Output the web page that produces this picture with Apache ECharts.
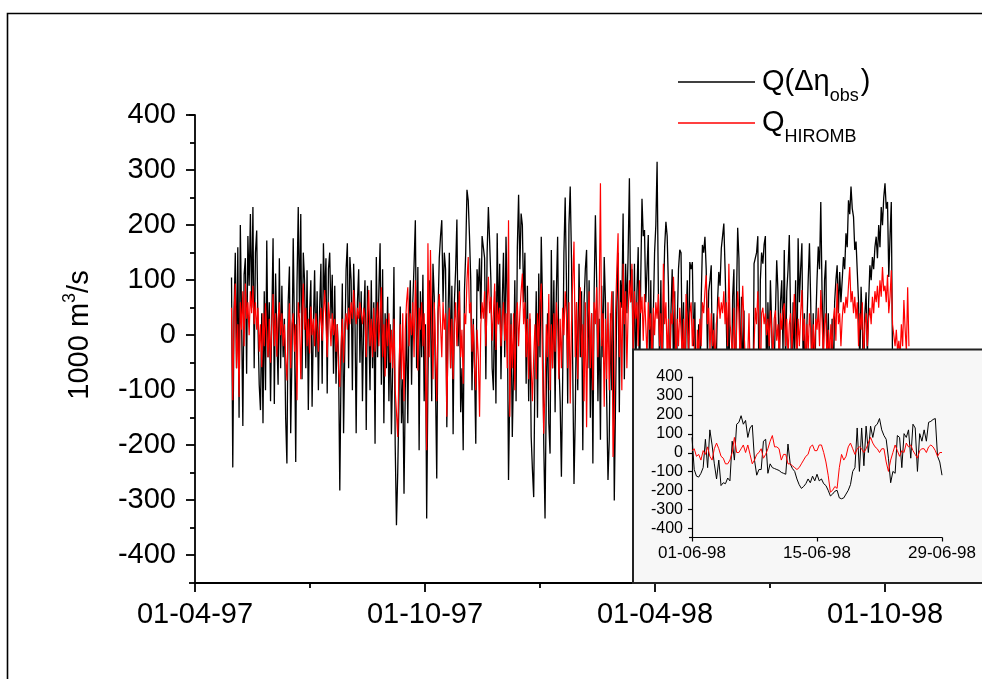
<!DOCTYPE html>
<html>
<head>
<meta charset="utf-8">
<script src="https://cdn.jsdelivr.net/npm/echarts/dist/echarts.min.js"></script>
<style>
  html, body { margin: 0; padding: 0; background: #fff; }
  #chart { width: 982px; height: 679px; }
</style>
</head>
<body>
<div id="chart"></div>
<script>
// days are counted from 01-04-97; one value per day
const firstDay = 29
const mainTickLabels = ['01-04-97', '01-10-97', '01-04-98', '01-10-98']

const qObs = [
  105,-240,40,150,-60,160,-150,200,30,-165,110,
  140,-70,180,90,220,50,233,-60,150,190,
  20,-90,-136,40,-160,80,-100,172,-40,60,
  -120,30,176,-125,112,0,-90,140,-60,90,
  -40,30,-150,-233,60,125,-178,-40,176,10,
  -230,90,233,40,220,-80,150,100,-60,118,
  -136,40,100,-130,20,118,-40,80,-100,50,
  130,-88,167,60,140,-106,120,150,30,110,
  -70,90,-88,20,-40,-282,-60,94,-178,-20,
  120,167,-60,142,100,-100,130,40,-178,60,
  120,-50,80,-120,30,100,
  -172,90,20,-100,100,-60,60,-197,142,-40,80,
  167,-90,120,-160,40,-60,70,-120,20,-180,
  -60,124,-200,-345,-250,-120,52,-160,-80,-288,
  -100,40,-160,30,100,-90,60,130,209,-60,
  124,-209,80,-40,110,-120,20,-333,-80,100,
  60,-120,130,70,-90,-260,40,140,180,209,
  60,150,120,-167,40,150,-60,90,-180,60,
  120,210,-20,100,-140,-60,-209,80,150,264,
  245,180,100,-100,30,-60,-197,120,80,140,
  30,180,179,140,-80,150,233,170,100,-60,
  -100,80,-124,185,20,130,-80,60,150,-40,
  179,60,-263,-100,40,-185,-60,100,-120,160,
  255,120,221,200,60,150,-88,90,-120,30,
  -185,-245,-294,-60,80,-150,112,-40,179,60,
  -200,-333,-100,40,-160,-215,155,-60,100,-140,
  80,179,-50,-120,-257,-80,150,250,100,-124,
  200,270,140,-60,-270,-150,60,-100,130,-40,
  80,-209,60,120,155,-60,100,-150,40,-233,
  80,218,100,-120,30,-190,90,-40,142,60,
  -120,-263,-190,40,-100,80,-300,-120,60,150,
  -140,100,50,221,-80,130,40,150,285,60,
  120,-60,130,-100,80,160,-120,100,248,180,
  191,60,120,182,-80,100,-150,40,150,200,
  315,80,-60,100,-120,60,160,206,180,90,
  -100,40,120,-60,80,-180,20,120,155,150,
  -40,60,-150,20,100,-60,133,120,133,-20,
  60,-200,-100,20,-120,60,164,150,179,120,
  -40,80,100,127,-80,40,-160,-50,60,115,
  90,158,180,203,120,20,-100,60,-140,
  -120,70,120,-170,60,195,140,-100,70,-90,
  45,-120,-185,-140,-150,-220,-245,-200,130,140,
  150,180,-160,100,150,130,165,180,-120,
  60,-40,100,20,-140,-60,40,136,80,-60,60,100,-30,
  155,-60,80,120,182,40,-100,60,-40,100,
  -80,176,60,120,167,-60,40,-120,20,100,
  167,60,-100,40,-150,20,100,161,120,242,
  80,-40,100,136,-80,40,-120,-60,30,-100,
  60,100,127,40,115,60,100,142,120,185,
  160,245,220,270,230,215,155,170,115,60,
  -60,88,20,-100,40,78,-40,60,127,100,
  142,120,160,179,140,200,160,233,200,250,
  276,230,242,106,180,242,-60
]

const qHiromb = [
  50,-118,40,94,-60,20,-112,60,10,80,-20,
  94,30,60,0,80,40,90,20,60,10,
  50,-30,20,-58,40,-20,58,0,-40,30,
  -50,20,75,-20,40,-39,30,60,0,40,
  -20,20,-40,-82,10,58,-60,20,40,-30,
  20,-118,60,30,-80,40,94,10,50,-20,
  30,-33,52,0,30,-20,40,10,-30,20,
  50,-10,40,82,20,-40,60,30,-20,40,
  0,30,-30,20,-60,-94,-20,30,-50,20,
  40,10,50,20,60,30,82,40,20,50,
  30,60,40,20,50,30,
  -40,40,82,-20,30,-40,50,-30,20,60,-20,
  40,87,-40,20,-75,30,-20,40,-50,10,
  -60,30,-100,-140,-185,-60,20,-80,40,-120,
  10,60,87,-20,40,0,60,-40,100,30,
  -64,50,10,60,-20,40,-60,-209,167,-40,
  155,20,-80,60,-20,-120,40,75,20,-40,
  60,10,40,-148,0,50,-60,30,-80,20,
  60,-20,30,80,-40,10,-88,40,20,100,
  142,40,60,-30,20,-60,-100,10,-40,-148,
  20,60,30,80,-20,60,106,40,70,-10,
  40,94,-27,60,20,50,-20,30,60,-10,
  40,-60,209,-148,20,-60,40,-100,30,60,
  -20,40,80,112,20,60,-40,30,-80,40,
  -60,-120,-40,20,-80,40,-20,60,94,-60,
  -179,-100,20,-40,75,-100,20,-60,40,-30,
  60,20,-80,30,-60,50,0,80,40,-60,
  60,-124,20,100,170,-40,60,-80,30,87,
  -40,20,-120,60,-167,30,80,-60,40,-100,
  60,20,87,-40,60,276,-20,40,-130,30,
  -80,60,-100,20,80,-221,-150,40,120,185,
  -40,60,-100,130,20,80,-60,40,100,60,
  130,-27,80,30,60,-20,100,40,70,-10,
  75,20,-40,60,10,40,-60,50,0,60,
  30,75,-20,40,-60,130,20,60,-40,30,
  -80,40,20,106,40,-60,30,-20,50,10,
  -40,30,-80,75,20,-30,40,60,-20,30,
  -60,-100,10,-40,30,-20,60,40,80,109,
  20,50,-30,40,-20,10,-60,20,40,70,
  30,60,40,80,20,60,-20,130,20,
  20,-40,50,-60,0,80,40,-60,20,90,
  20,-60,-90,-40,40,40,-210,-180,-20,50,
  20,80,20,-100,40,50,20,40,0,
  30,-20,45,10,-40,30,45,-10,20,-50,40,10,45,
  58,-20,30,-40,20,40,-30,20,75,10,
  -40,30,-20,40,82,-10,30,-60,20,-30,
  40,10,-50,20,-40,30,10,50,-20,82,
  30,-40,20,40,-60,10,-40,20,-30,30,
  50,-10,94,20,40,-20,30,60,40,70,
  50,90,124,60,80,40,70,30,60,-20,
  40,10,60,-40,20,40,-20,30,50,20,
  70,40,80,60,90,50,100,70,124,80,
  90,60,110,40,70,118,20,0,-20,10,
  -30,-10,-40,20,-20,64,10,-30,87,-20
]

// inset: June 1998, one value every 6 hours
const insetTickLabels = ['01-06-98', '15-06-98', '29-06-98']
const insetStep = 0.25
const insetObs = [
  80,-90,-125,-130,-110,-80,70,-80,120,40,
  -60,-140,-40,-175,-160,-165,-135,-150,60,-40,
  150,160,195,150,170,80,130,145,-40,-120,
  -90,-90,60,70,-110,-60,-80,-85,-90,-95,
  -105,-110,-115,45,-60,-85,-100,-140,-170,-190,
  -180,-165,-140,-160,-125,-150,-115,-150,-140,-165,
  -175,-200,-230,-220,-205,-200,-240,-245,-240,-220,
  -200,-170,-100,-80,130,-100,130,-70,140,0,
  140,80,140,150,180,120,90,70,-30,-160,
  -100,-110,90,80,-80,100,80,120,-30,150,
  130,-100,100,60,120,60,160,165,175,180,
  -20,-50,-120
]
const insetHiromb = [
  10,20,-20,-10,-40,10,-10,30,-20,-40,
  20,50,20,-20,-30,-60,-60,-40,0,80,
  0,0,20,40,0,40,-10,-60,-40,-10,
  0,20,-30,-10,20,60,90,30,30,20,
  -40,-10,-10,-60,-60,-70,-80,-90,-80,-60,
  -40,-20,-10,30,40,10,10,40,40,0,
  -50,-120,-210,-200,-180,-190,-80,-10,-40,-20,
  30,50,20,-10,20,30,20,0,20,50,
  80,50,30,20,0,20,20,-50,-100,-40,
  0,40,10,-20,10,0,50,30,40,10,
  -10,-30,10,20,20,0,30,40,30,10,
  -20,0,0
]

const font = 'Liberation Sans, Arial, sans-serif'
const halfYear = 548 / 3

const toPairs = (values, start, step) => values.map((v, i) => [start + i * step, v])

const legendText = {
  'Q obs': '{q|Q(Δη}{s|obs}{q|)}',
  'Q HIROMB': '{q|Q}{s|HIROMB}'
}

const myChart = echarts.init(document.getElementById('chart'))

const axisLineStyle = { color: '#000', width: 1.8 }

const option = {
  animation: false,
  backgroundColor: '#fff',
  textStyle: { fontFamily: font, color: '#000' },
  graphic: [
    {
      type: 'rect',
      z: 0,
      silent: true,
      shape: { x: 7.5, y: 13.5, width: 1000, height: 700 },
      style: { fill: 'none', stroke: '#000', lineWidth: 1.6 }
    },
    {
      type: 'rect',
      z: 50,
      silent: true,
      shape: { x: 633, y: 349.5, width: 400, height: 233.5 },
      style: { fill: '#f7f7f7', stroke: '#222', lineWidth: 2 }
    }
  ],
  legend: {
    data: ['Q obs', 'Q HIROMB'],
    orient: 'vertical',
    left: 678,
    top: 59,
    padding: 0,
    itemGap: -5,
    itemWidth: 77,
    itemHeight: 1.3,
    icon: 'rect',
    selectedMode: false,
    formatter: name => legendText[name],
    textStyle: {
      rich: {
        q: { fontSize: 29, fontFamily: font, color: '#000', lineHeight: 30, verticalAlign: 'middle', padding: [0, 0, 0, 2] },
        s: { fontSize: 18, fontFamily: font, color: '#000', lineHeight: 18, verticalAlign: 'middle', padding: [28, 0, 0, 0] }
      }
    }
  },
  grid: [
    // main plot runs past the right edge of the page
    { left: 195, top: 115, width: 920, height: 468, outerBoundsMode: 'none' },
    { left: 195, top: 115, width: 920, height: 440, outerBoundsMode: 'none' },
    { left: 692, top: 377, width: 250, height: 160.5, outerBoundsMode: 'none' },
    { left: 692, top: 377, width: 250, height: 151.5, outerBoundsMode: 'none' }
  ],
  xAxis: [
    {
      gridIndex: 0,
      type: 'value',
      min: 0,
      max: 548 + halfYear,
      interval: halfYear,
      axisLine: { onZero: false, lineStyle: axisLineStyle },
      axisTick: { length: 9, lineStyle: axisLineStyle },
      minorTick: { show: true, splitNumber: 2, length: 5, lineStyle: axisLineStyle },
      splitLine: { show: false },
      axisLabel: {
        fontSize: 29,
        color: '#000',
        margin: 17,
        formatter: v => {
          const k = Math.round(v / halfYear)
          return Math.abs(v - k * halfYear) < 0.5 && k < mainTickLabels.length ? mainTickLabels[k] : ''
        }
      }
    },
    { gridIndex: 1, type: 'value', show: false, min: 0, max: 1 },
    {
      gridIndex: 2,
      type: 'value',
      z: 60,
      min: 0,
      max: 28,
      interval: 14,
      axisLine: { onZero: false, lineStyle: { color: '#000', width: 1.2 } },
      axisTick: { length: 4, lineStyle: { color: '#000', width: 1.2 } },
      splitLine: { show: false },
      axisLabel: {
        fontSize: 17,
        color: '#000',
        margin: 7,
        formatter: v => insetTickLabels[Math.round(v / 14)] || ''
      }
    },
    { gridIndex: 3, type: 'value', show: false, min: 0, max: 1 }
  ],
  yAxis: [
    {
      gridIndex: 0,
      type: 'value',
      min: -450,
      max: 400,
      interval: 850,
      axisLine: { show: true, onZero: false, lineStyle: axisLineStyle },
      axisTick: { length: 6, lineStyle: axisLineStyle },
      axisLabel: { show: false },
      splitLine: { show: false }
    },
    {
      gridIndex: 1,
      type: 'value',
      min: -400,
      max: 400,
      interval: 100,
      name: '{a|1000 m}{b|3}{a|/s}',
      nameLocation: 'middle',
      nameRotate: 90,
      nameGap: 100,
      nameTextStyle: {
        rich: {
          a: { fontSize: 29, fontFamily: font, color: '#000', lineHeight: 30, verticalAlign: 'middle' },
          b: { fontSize: 18, fontFamily: font, color: '#000', lineHeight: 18, verticalAlign: 'middle', padding: [0, 0, 20, 0] }
        }
      },
      axisLine: { show: false, onZero: false },
      axisTick: { length: 9, lineStyle: axisLineStyle },
      minorTick: { show: true, splitNumber: 2, length: 5, lineStyle: axisLineStyle },
      axisLabel: { fontSize: 29, color: '#000', margin: 19 },
      splitLine: { show: false },
      minorSplitLine: { show: false }
    },
    {
      gridIndex: 2,
      type: 'value',
      z: 60,
      min: -450,
      max: 400,
      interval: 850,
      axisLine: { show: true, onZero: false, lineStyle: { color: '#000', width: 1.2 } },
      axisTick: { length: 3, lineStyle: { color: '#000', width: 1.2 } },
      axisLabel: { show: false },
      splitLine: { show: false }
    },
    {
      gridIndex: 3,
      type: 'value',
      z: 60,
      min: -400,
      max: 400,
      interval: 100,
      axisLine: { show: false, onZero: false },
      axisTick: { length: 4, lineStyle: { color: '#000', width: 1.2 } },
      axisLabel: { fontSize: 16, color: '#000', margin: 9 },
      splitLine: { show: false }
    }
  ],
  series: [
    {
      name: 'Q obs',
      type: 'line',
      xAxisIndex: 0,
      yAxisIndex: 0,
      data: toPairs(qObs, firstDay, 1),
      showSymbol: false,
      symbol: 'none',
      color: '#000',
      lineStyle: { color: '#000', width: 1.3 }
    },
    {
      name: 'Q HIROMB',
      type: 'line',
      xAxisIndex: 0,
      yAxisIndex: 0,
      data: toPairs(qHiromb, firstDay, 1),
      showSymbol: false,
      symbol: 'none',
      color: '#ff0000',
      lineStyle: { color: '#ff0000', width: 1.2 }
    },
    {
      name: 'inset obs',
      type: 'line',
      z: 60,
      xAxisIndex: 2,
      yAxisIndex: 2,
      data: toPairs(insetObs, 0, insetStep),
      showSymbol: false,
      symbol: 'none',
      color: '#000',
      lineStyle: { color: '#000', width: 1 }
    },
    {
      name: 'inset hiromb',
      type: 'line',
      z: 61,
      xAxisIndex: 2,
      yAxisIndex: 2,
      data: toPairs(insetHiromb, 0, insetStep),
      showSymbol: false,
      symbol: 'none',
      color: '#ff0000',
      lineStyle: { color: '#ff0000', width: 1 }
    }
  ]
}

myChart.setOption(option)
</script>
</body>
</html>
